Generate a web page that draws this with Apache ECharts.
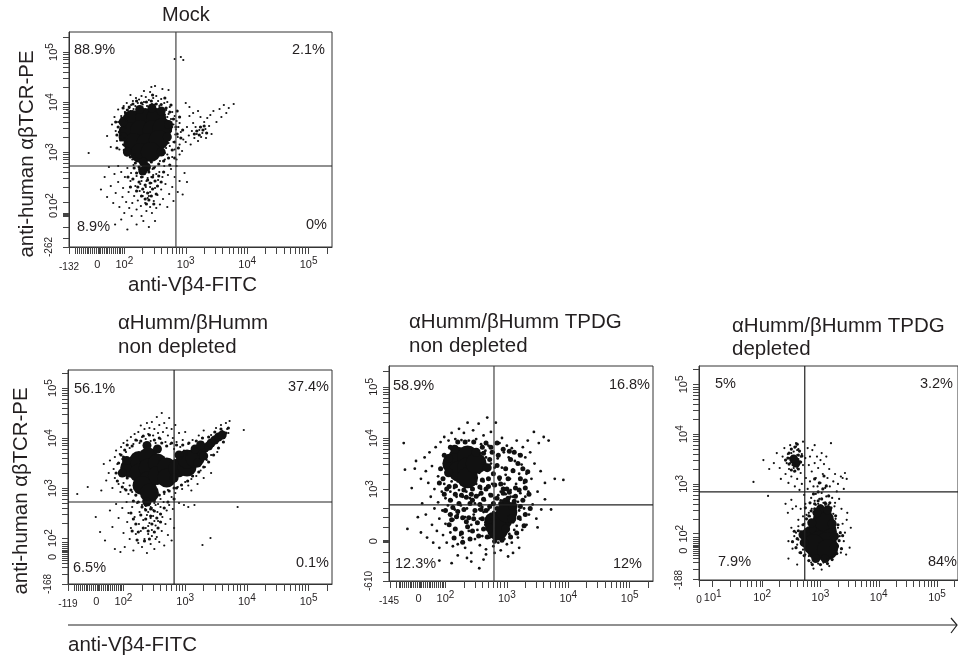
<!DOCTYPE html>
<html><head><meta charset="utf-8">
<style>html,body{margin:0;padding:0;background:#fff;overflow:hidden}#c{width:958px;height:655px}</style>
<script src="https://cdn.jsdelivr.net/npm/echarts@6/dist/echarts.min.js"></script></head>
<body><div id="c"></div>
<script>
// axis positions are decade units of the display scale (3 = 10^3)
const mockBig=[[2.13,3.64],[2.34,3.68],[2.52,3.68],[2.07,3.4],[2.26,3.44],[2.46,3.44],[2.62,3.48],[2.15,3.18],[2.36,3.18],[2.56,3.24],[2.26,2.98],[2.43,3.0]];
const mockSmall=[[2.31,2.8],[2.36,2.7],[2.3,2.62],[2.72,3.55],[2.7,3.3],[1.98,3.6],[1.98,3.3],[2.05,3.0],[2.6,3.0],[2.25,3.85],[2.45,3.88],[2.6,3.82]];
const mockNear=[[1.9,3.5],[2.0,3.14],[1.94,3.24],[2.02,3.78],[1.96,3.68],[2.08,3.9],[2.1,2.9],[1.92,3.4],[2.04,2.94],[2.14,3.96],[2.2,2.86],[2.28,3.98],[2.18,2.78],[2.36,4.0],[2.44,4.02],[2.52,3.96],[2.6,3.95],[2.68,3.88],[2.74,3.8],[2.8,3.66],[2.84,3.5],[2.86,3.36],[2.82,3.2],[2.78,3.04],[2.72,2.88],[2.64,2.82],[2.56,2.76],[2.48,2.68],[2.44,2.8],[2.24,2.7],[2.2,2.58],[2.16,2.68],[2.4,2.6],[2.46,2.5],[2.38,2.44],[2.28,2.5],[2.34,2.34],[2.42,2.38],[2.5,2.42],[2.3,2.26],[2.38,2.18],[2.46,2.26],[2.54,2.32],[2.24,2.4],[2.2,2.22],[2.28,2.12],[2.4,2.04],[2.36,1.96],[2.44,2.12],[2.52,2.16],[2.56,2.52],[2.6,2.4],[2.64,2.6],[2.1,2.3],[2.14,2.46],[2.06,2.5],[2.74,2.74],[2.82,2.88],[2.88,3.08],[2.92,3.28],[2.95,3.44],[1.88,3.34],[1.86,3.6],[1.98,3.88],[2.76,3.94],[2.66,4.08],[2.46,4.14],[2.2,4.02],[3.18,3.42],[3.24,3.5],[3.14,3.36],[3.28,3.44],[3.22,3.34],[3.3,3.52],[3.34,3.38],[2.05,3.84],[2.9,3.7],[2.86,3.82],[2.0,3.04],[1.88,3.08],[2.22,2.3],[2.48,1.96],[2.34,2.06]];
const mockSpeck=[[1.42,2.98],[1.72,3.32],[1.78,3.1],[1.8,3.55],[1.84,3.7],[1.86,3.42],[1.88,3.22],[1.9,3.6],[1.9,3.85],[1.92,3.05],[1.94,3.34],[1.95,3.72],[1.97,3.5],[1.98,3.15],[1.99,3.92],[2.0,3.28],[2.01,3.8],[2.02,2.95],[2.03,3.62],[2.04,3.98],[2.05,3.1],[2.06,3.76],[2.08,3.88],[2.09,2.9],[2.1,3.02],[2.11,3.94],[2.13,2.85],[2.14,4.02],[2.15,3.86],[2.17,2.95],[2.18,3.92],[2.19,4.08],[2.2,2.82],[2.22,3.98],[2.24,4.05],[2.25,3.88],[2.28,4.12],[2.3,3.95],[2.32,4.0],[2.35,4.1],[2.37,3.92],[2.4,4.04],[2.42,4.2],[2.45,3.96],[2.47,4.08],[2.5,3.95],[2.52,4.12],[2.55,4.02],[2.57,3.92],[2.6,4.06],[2.62,3.88],[2.65,3.98],[2.68,3.84],[2.7,4.0],[2.72,3.76],[2.74,3.9],[2.76,3.66],[2.78,3.8],[2.8,3.55],[2.82,3.72],[2.84,3.45],[2.85,3.62],[2.87,3.3],[2.88,3.5],[2.9,3.15],[2.92,3.4],[2.94,3.02],[2.96,3.25],[2.8,3.2],[2.82,3.05],[2.78,2.9],[2.7,2.95],[2.74,3.12],[2.68,3.08],[2.85,2.85],[2.9,2.95],[2.66,2.85],[2.58,2.82],[2.52,2.9],[2.76,3.42],[2.83,3.35],[2.9,3.58],[1.93,3.45],[2.02,3.48],[2.0,3.66],[2.03,3.2],[2.07,3.7],[2.1,3.82],[2.12,2.94],[2.18,2.88],[2.7,3.7],[2.66,3.75],[2.78,3.5],[2.72,3.18],[2.66,2.98],
[3.0,3.2],[3.02,3.5],[3.05,3.33],[3.06,3.72],[3.08,3.15],[3.1,3.42],[3.12,3.58],[3.14,3.28],[3.16,3.5],[3.18,3.36],[3.2,3.22],[3.22,3.44],[3.24,3.7],[3.25,3.3],[3.27,3.38],[3.3,3.6],[3.32,3.46],[3.33,3.28],[3.35,3.68],[3.38,3.52],[3.4,3.74],[3.42,3.36],[3.45,3.82],[3.5,3.6],[3.55,3.86],[3.58,3.7],[3.62,3.94],[3.66,3.78],[3.7,3.88],[3.78,3.96],[3.12,3.78],[3.2,3.82],[3.06,3.9],[3.0,3.98],
[2.82,4.86],[2.92,4.9],[2.96,4.84],[2.5,4.32],[2.62,4.26],[2.44,4.3],[2.72,4.24],[2.32,4.22],[2.1,4.14],
[1.62,2.25],[1.68,2.5],[1.72,2.1],[1.75,2.7],[1.78,2.32],[1.82,1.98],[1.84,2.56],[1.86,2.18],[1.9,2.72],[1.9,2.4],[1.92,1.9],[1.95,2.6],[1.97,2.1],[1.98,2.28],[2.0,1.78],[2.01,2.5],[2.03,2.0],[2.05,2.68],[2.07,2.2],[2.08,1.88],[2.1,2.42],[2.11,2.58],[2.13,1.98],[2.15,2.74],[2.16,2.12],[2.18,2.32],[2.2,1.85],[2.2,2.52],[2.22,2.03],[2.24,2.66],[2.25,2.22],[2.27,1.92],[2.28,2.42],[2.3,2.12],[2.31,1.62],[2.32,2.56],[2.34,1.98],[2.35,2.3],[2.36,1.82],[2.38,2.48],[2.38,2.08],[2.4,2.62],[2.42,1.9],[2.42,2.2],[2.44,2.38],[2.45,1.78],[2.47,2.54],[2.48,2.02],[2.5,2.28],[2.5,2.7],[2.52,1.88],[2.54,2.14],[2.55,2.44],[2.57,2.6],[2.58,1.95],[2.6,2.25],[2.62,2.5],[2.63,2.06],[2.65,2.72],[2.67,2.36],[2.7,1.9],[2.71,2.54],[2.73,2.16],[2.76,2.66],[2.78,2.3],[2.8,2.02],[2.82,2.5],[2.85,2.72],[2.87,2.2],[2.9,2.42],[2.98,2.58],[3.02,2.4],[2.95,2.15],[1.85,1.55],[1.95,1.65],[2.05,1.45],[2.2,1.55],[2.4,1.5],[2.5,1.62],[2.28,1.72],[2.12,1.72],[2.42,2.3],[2.36,2.42],[2.3,2.5],[2.34,2.62],[2.26,2.58],[2.44,2.5],[2.4,2.12],[2.32,2.2],[2.26,2.36],[2.46,2.66],[2.52,2.56]];
const wtBig=[[2.1,3.4],[2.25,3.55],[2.25,3.3],[2.4,3.62],[2.4,3.4],[2.4,3.15],[2.55,3.5],[2.55,3.25],[2.3,3.05],[2.42,2.9],[2.7,3.42],[2.7,3.2],[2.88,3.4],[3.03,3.42],[3.03,3.58],[3.16,3.6]];
const wtSmall=[[3.26,3.72],[3.32,3.8],[3.38,3.84],[3.42,3.9],[3.48,3.96],[3.54,4.02],[3.6,4.06],[2.82,3.2],[3.2,3.5],[3.3,3.64],[3.16,3.78],[3.25,3.86],[2.9,3.66],[2.55,3.78],[2.38,3.85],[2.38,2.72],[1.98,3.3],[2.05,3.55]];
const wtNear=[[1.88,3.3],[1.92,3.5],[1.9,3.14],[1.96,3.66],[1.98,3.02],[2.02,3.76],[2.06,3.86],[2.04,2.96],[2.12,2.96],[2.14,3.84],[2.2,3.96],[2.28,3.94],[2.2,2.86],[2.5,3.96],[2.62,3.9],[2.7,3.84],[2.78,3.9],[2.86,3.86],[2.58,4.0],[2.32,4.04],[2.42,4.06],[2.16,2.74],[2.24,2.72],[2.5,2.74],[2.58,2.86],[2.66,2.92],[2.74,2.94],[2.82,3.0],[2.94,3.06],[3.04,3.14],[3.12,3.24],[3.22,3.32],[3.3,3.42],[3.38,3.52],[3.46,3.66],[3.54,3.8],[3.62,3.92],[3.66,4.1],[3.58,4.18],[3.48,4.12],[3.38,4.02],[3.28,4.0],[3.18,3.94],[3.06,3.9],[2.96,3.86],[3.7,4.2],[2.3,2.62],[2.36,2.56],[2.44,2.58],[2.28,2.46],[2.36,2.38],[2.44,2.44],[2.5,2.54],[2.54,2.4],[2.46,2.28],[2.4,2.14],[2.5,2.12],[2.56,2.2],[2.32,2.2],[2.2,2.28],[2.24,2.12],[2.34,1.94],[2.42,1.98],[2.12,2.5],[2.16,2.38],[2.6,2.48],[2.66,2.6],[2.72,2.72],[2.82,2.78],[2.14,2.14],[2.22,1.96],[2.6,2.32],[2.86,3.0],[2.06,3.2],[2.0,3.62]];
const wtSpeck=[[1.25,2.88],[1.42,3.02],[1.64,2.95],[1.68,3.48],[1.72,3.15],[1.76,3.3],[1.78,3.55],[1.82,3.0],[1.84,3.38],[1.86,3.62],[1.86,3.2],[1.88,3.75],[1.9,3.48],[1.92,3.08],[1.94,3.68],[1.95,2.92],[1.96,3.82],[1.98,3.58],[2.0,3.1],[2.0,3.9],[2.02,2.98],[2.04,3.72],[2.06,3.95],[2.08,2.88],[2.1,3.8],[2.1,3.05],[2.12,4.02],[2.14,2.92],[2.16,3.88],[2.18,4.08],[2.2,2.85],[2.22,3.95],[2.24,4.12],[2.26,3.9],[2.28,4.25],[2.3,4.02],[2.32,2.74],[2.34,4.18],[2.36,3.98],[2.38,4.3],[2.4,4.08],[2.42,4.2],[2.44,3.94],[2.46,4.32],[2.48,4.05],[2.5,4.18],[2.52,3.9],[2.54,4.42],[2.56,4.1],[2.58,4.26],[2.6,3.98],[2.62,4.5],[2.64,4.12],[2.66,4.3],[2.68,3.92],[2.7,4.2],[2.72,4.05],[2.74,4.4],[2.76,3.88],[2.78,4.18],[2.8,4.0],[2.82,3.78],[2.84,4.26],[2.86,3.92],[2.88,3.7],[2.9,4.1],[2.92,3.82],[2.94,3.62],[2.96,3.96],[2.98,3.75],[3.0,4.12],[3.02,3.66],[3.05,3.88],[3.08,3.74],[3.12,3.96],[3.16,3.8],[3.22,4.05],[3.28,3.92],[3.3,4.15],[3.42,4.06],[3.5,4.2],[3.58,4.26],[3.66,4.3],[3.72,4.34],[3.68,4.18],[3.6,4.14],[3.7,4.1],[3.52,3.72],[3.42,3.66],[3.35,3.56],[3.25,3.35],[3.32,3.42],[3.18,3.24],[3.1,3.18],[3.05,3.05],[3.0,3.12],[2.95,2.98],[2.88,3.02],[2.84,2.9],[2.78,2.82],[2.72,2.96],[2.66,2.88],[2.6,2.78],[2.54,2.9],[3.2,3.08],[3.3,3.2],[3.42,3.3],[3.1,2.95],[3.95,4.16],
[1.55,2.42],[1.62,2.12],[1.7,1.95],[1.78,2.55],[1.82,2.22],[1.86,1.78],[1.88,2.68],[1.92,2.4],[1.95,1.72],[1.98,2.6],[2.0,2.1],[2.02,1.82],[2.05,2.72],[2.06,2.32],[2.08,2.5],[2.1,1.98],[2.12,2.2],[2.14,2.62],[2.16,1.75],[2.18,2.42],[2.2,2.08],[2.22,2.7],[2.24,1.9],[2.25,2.28],[2.26,2.52],[2.28,2.14],[2.3,1.82],[2.3,2.66],[2.32,2.36],[2.34,1.98],[2.35,2.58],[2.36,2.2],[2.38,1.7],[2.38,2.46],[2.4,2.08],[2.42,2.3],[2.44,1.88],[2.44,2.62],[2.46,2.16],[2.48,2.44],[2.5,1.78],[2.5,2.7],[2.52,2.25],[2.54,2.02],[2.55,2.52],[2.56,2.34],[2.58,1.92],[2.6,2.62],[2.62,2.14],[2.63,2.42],[2.65,2.72],[2.66,1.85],[2.68,2.28],[2.7,2.55],[2.72,2.06],[2.74,2.66],[2.76,2.38],[2.78,1.95],[2.8,2.58],[2.82,2.2],[2.9,2.7],[2.98,2.66],[3.05,2.62],[3.15,2.66],[3.85,2.62],[3.41,2.0],[3.28,1.86],[2.4,2.52],[2.46,2.6],[2.42,2.68],[2.36,2.64],[2.48,2.56],[2.52,2.66],[2.56,2.68],[2.44,2.4],[2.5,2.34],[2.4,2.24],[2.46,2.04],[2.52,1.98]];
const tpBig=[[2.12,3.5],[2.22,3.62],[2.22,3.35],[2.36,3.65],[2.36,3.42],[2.36,3.22],[2.5,3.5],[2.8,2.35],[2.92,2.4],[2.85,2.2],[3.0,2.55]];
const tpSmall=[[2.05,3.32],[2.05,3.6],[2.5,3.72],[2.15,3.78],[2.68,3.42],[2.72,2.42],[2.72,2.24],[2.98,2.22],[3.08,2.42],[3.1,2.66],[2.98,2.74]];
const tpNear=[[1.92,3.4],[1.96,3.2],[1.98,3.66],[2.06,3.05],[2.08,3.82],[2.16,3.06],[2.2,3.92],[2.3,2.98],[2.32,3.92],[2.44,3.0],[2.46,3.92],[2.6,3.18],[2.62,3.7],[2.72,3.58],[2.7,3.05],[2.78,3.3],[2.84,3.46],[2.88,3.22],[2.94,3.0],[2.98,3.4],[3.02,3.2],[3.06,3.58],[3.1,3.36],[3.14,3.02],[3.18,3.5],[3.22,3.2],[2.76,3.72],[2.86,3.66],[2.94,3.78],[3.04,3.74],[3.12,3.72],[2.66,3.0],[2.58,2.92],[2.74,2.88],[2.84,2.82],[2.94,2.92],[3.04,2.94],[3.14,2.86],[3.2,2.98],[3.26,2.78],[3.3,3.02],[3.34,3.34],[3.38,2.62],[3.36,2.9],[3.3,2.5],[3.28,2.28],[3.22,2.66],[3.2,2.44],[3.16,2.14],[3.06,2.06],[2.92,2.0],[2.8,1.98],[2.68,2.06],[2.62,2.22],[2.6,2.42],[2.56,2.7],[2.5,2.86],[2.42,2.9],[2.34,2.84],[2.26,2.88],[2.16,2.9],[2.08,2.78],[2.12,2.64],[2.22,2.72],[2.3,2.6],[2.4,2.72],[2.48,2.58],[2.38,2.44],[2.28,2.44],[2.18,2.46],[2.08,2.5],[2.0,2.58],[2.06,2.3],[2.16,2.22],[2.26,2.14],[2.36,2.26],[2.44,2.18],[2.52,2.34],[2.54,2.08],[2.4,2.02],[2.28,1.96],[2.14,2.04],[2.62,2.8],[2.72,2.66],[2.78,2.72],[2.66,2.58],[2.9,2.72],[2.84,2.62],[3.02,2.82],[3.12,2.76],[2.7,3.2],[2.8,3.08],[2.9,3.1],[3.0,3.0],[2.56,3.04],[2.44,2.78],[1.98,2.9],[2.02,3.0],[1.9,3.12],[3.3,3.16],[3.26,3.4],[3.22,3.66],[2.6,3.82],[2.66,3.9],[2.74,3.82],[2.84,3.9],[2.2,2.56],[2.1,2.4],[2.34,2.36],[2.46,2.42],[2.58,2.6]];
const tpSpeck=[[1.32,3.9],[1.34,3.38],[1.38,2.22],[1.45,3.02],[1.5,3.4],[1.52,3.55],[1.55,2.45],[1.6,3.2],[1.6,2.15],[1.62,2.72],[1.66,3.62],[1.68,3.35],[1.68,2.5],[1.7,2.05],[1.72,3.12],[1.74,3.72],[1.76,2.85],[1.78,2.3],[1.78,3.45],[1.8,1.95],[1.82,3.0],[1.82,2.62],[1.84,3.82],[1.86,2.18],[1.88,3.25],[1.88,2.74],[1.9,2.42],[1.9,1.85],[1.92,3.92],[1.94,2.95],[1.95,2.58],[1.96,2.1],[1.98,3.1],[1.98,4.02],[2.0,2.82],[2.0,2.32],[2.02,1.95],[2.04,2.68],[2.05,3.95],[2.06,2.5],[2.08,2.95],[2.08,2.15],[2.1,4.1],[2.1,2.78],[2.12,1.88],[2.13,2.4],[2.14,3.02],[2.15,2.6],[2.16,3.98],[2.18,2.85],[2.2,1.92],[2.2,2.5],[2.22,4.18],[2.22,2.98],[2.24,2.1],[2.25,2.68],[2.26,3.96],[2.28,2.05],[2.28,2.85],[2.3,4.1],[2.32,2.45],[2.32,1.85],[2.34,2.95],[2.35,2.62],[2.36,4.3],[2.38,2.18],[2.38,3.95],[2.4,2.82],[2.42,2.3],[2.42,1.75],[2.44,3.02],[2.45,4.15],[2.46,2.5],[2.48,2.02],[2.48,2.72],[2.5,3.98],[2.5,3.1],[2.52,2.2],[2.54,2.88],[2.54,4.28],[2.56,2.42],[2.56,1.9],[2.58,3.0],[2.58,3.88],[2.6,2.65],[2.6,2.08],[2.62,4.05],[2.62,3.15],[2.64,2.78],[2.65,2.3],[2.66,1.82],[2.66,3.62],[2.68,3.05],[2.68,4.4],[2.7,2.6],[2.7,3.85],[2.72,2.9],[2.72,2.05],[2.74,3.5],[2.74,4.12],[2.76,3.1],[2.76,2.7],[2.78,3.72],[2.78,1.88],[2.8,2.82],[2.8,3.42],[2.82,4.3],[2.82,3.08],[2.84,2.62],[2.85,3.6],[2.86,1.95],[2.88,3.9],[2.88,3.18],[2.9,2.78],[2.9,1.8],[2.92,3.42],[2.92,4.0],[2.94,3.02],[2.95,3.72],[2.96,2.02],[2.98,2.9],[2.98,3.28],[3.0,3.85],[3.0,1.92],[3.02,2.78],[3.03,3.62],[3.04,2.12],[3.05,3.2],[3.06,2.98],[3.08,3.8],[3.08,1.95],[3.1,3.38],[3.1,2.85],[3.12,2.2],[3.13,3.55],[3.14,2.52],[3.15,3.1],[3.16,3.95],[3.18,2.75],[3.18,2.05],[3.2,3.3],[3.2,3.68],[3.22,2.92],[3.22,2.4],[3.24,3.48],[3.25,2.2],[3.26,3.82],[3.28,3.12],[3.28,2.62],[3.3,3.62],[3.3,2.85],[3.32,3.3],[3.32,2.3],[3.34,3.95],[3.35,2.95],[3.36,2.5],[3.38,3.72],[3.4,3.2],[3.42,2.7],[3.44,4.12],[3.45,3.5],[3.48,2.42],[3.5,2.95],[3.52,3.9],[3.55,3.35],[3.56,2.6],[3.6,4.02],[3.62,2.8],[3.62,3.12],[3.68,3.95],[3.78,3.2],[3.92,3.18],[3.72,2.6],[3.5,2.25],[2.2,3.15],[2.1,3.15],[2.18,3.05],[2.5,3.22],[2.55,3.32],[2.48,3.3],[2.6,3.5],[2.65,3.75],[2.58,3.7],[2.9,2.95],[2.86,2.88],[2.96,3.1],[2.76,2.4],[2.78,2.55],[2.62,2.55],[2.55,2.6],[3.1,2.35],[3.16,2.28],[3.12,2.68],[3.2,2.58],[3.06,2.85],[2.1,1.55],[2.35,1.65],[2.55,1.45],[2.62,1.62],[1.9,1.6],[2.8,1.75],[3.02,1.68],[3.2,1.85],[3.1,1.75],[2.66,1.72],[2.2,1.7],[2.42,1.58]];
const depBig=[[2.85,1.95],[2.98,2.12],[3.1,2.05],[2.98,1.85],[3.1,1.82],[2.95,1.68],[3.05,2.28],[2.88,1.78],[3.12,1.68]];
const depSmall=[[2.72,1.82],[2.7,1.98],[3.24,1.95],[3.24,1.75],[2.85,2.22],[3.2,2.2],[3.08,1.5],[2.92,1.5],[3.0,2.5],[3.12,2.48],[2.94,2.42],[2.54,3.5],[2.58,3.42]];
const depNear=[[2.6,1.9],[2.58,1.72],[2.62,2.06],[2.66,1.62],[2.7,2.18],[2.72,1.56],[2.76,2.3],[2.8,2.36],[2.8,1.46],[2.84,2.46],[2.86,1.38],[2.9,2.6],[2.96,2.66],[3.0,1.38],[3.02,2.7],[3.08,2.62],[3.12,1.4],[3.14,2.76],[3.18,2.52],[3.2,1.48],[3.26,2.36],[3.28,1.6],[3.3,2.18],[3.32,1.86],[3.34,2.02],[2.96,2.84],[3.04,2.9],[2.88,2.8],[3.1,2.96],[2.98,3.02],[2.9,3.1],[3.06,3.16],[2.46,3.62],[2.5,3.7],[2.56,3.74],[2.62,3.58],[2.66,3.44],[2.64,3.66],[2.46,3.4],[2.5,3.28],[2.56,3.26],[2.62,3.3],[2.44,3.52],[2.68,3.56],[2.6,3.8],[2.4,3.48],[3.0,2.56],[2.9,2.5],[3.16,2.62],[2.82,2.62],[2.74,2.52],[2.55,2.05],[2.52,1.84],[3.36,1.7],[3.38,1.96]];
const depSpeck=[[1.85,3.04],[2.1,2.76],[2.02,3.48],[2.12,3.3],[2.2,3.42],[2.25,3.62],[2.3,3.32],[2.32,3.1],[2.35,3.55],[2.38,3.72],[2.4,3.2],[2.42,3.42],[2.44,3.6],[2.45,3.02],[2.46,3.3],[2.48,3.78],[2.5,3.5],[2.5,3.15],[2.52,3.38],[2.54,3.65],[2.55,3.25],[2.56,2.95],[2.58,3.82],[2.6,3.58],[2.6,3.32],[2.6,3.1],[2.62,3.7],[2.64,2.88],[2.65,3.45],[2.66,3.22],[2.68,3.6],[2.68,3.0],[2.7,3.38],[2.7,3.85],[2.72,2.78],[2.74,3.52],[2.75,3.12],[2.78,3.72],[2.78,2.9],[2.8,3.38],[2.82,3.55],[2.82,3.05],[2.84,2.72],[2.85,3.25],[2.86,3.68],[2.88,2.95],[2.9,3.42],[2.9,3.78],[2.92,3.12],[2.92,2.8],[2.94,3.55],[2.95,2.95],[2.96,3.32],[2.98,2.7],[3.0,3.48],[3.0,3.02],[3.02,3.62],[3.02,2.82],[3.04,3.2],[3.05,2.62],[3.06,3.4],[3.08,2.92],[3.1,3.55],[3.1,2.75],[3.12,3.12],[3.14,2.58],[3.15,3.3],[3.16,2.95],[3.18,3.82],[3.2,2.72],[3.22,3.05],[3.24,2.55],[3.25,3.2],[3.28,2.85],[3.3,3.0],[3.32,2.7],[3.35,3.15],[3.38,3.12],[3.42,3.22],[3.45,3.1],[3.4,2.9],[3.36,2.5],[3.1,2.6],[2.96,2.6],[2.9,2.66],[2.85,2.5],[2.8,2.42],[2.74,2.6],[2.7,2.35],[2.66,2.5],[2.62,2.15],[2.58,2.55],[2.5,2.68],[2.45,1.85],[2.5,2.12],[2.52,1.7],[2.55,1.95],[2.58,2.02],[2.6,1.78],[2.62,1.88],[2.62,2.28],[2.64,1.62],[2.66,2.05],[2.68,1.85],[2.7,1.68],[2.72,2.2],[2.74,1.58],[2.76,2.38],[2.8,1.55],[2.82,2.35],[2.84,1.42],[2.88,2.42],[2.9,1.48],[2.92,2.58],[2.96,1.4],[3.0,1.5],[3.02,2.55],[3.05,1.42],[3.08,2.58],[3.12,1.48],[3.15,2.5],[3.18,1.52],[3.22,2.4],[3.25,1.6],[3.26,2.3],[3.3,1.75],[3.3,2.12],[3.33,1.95],[3.35,1.62],[3.38,2.2],[3.4,1.85],[3.42,2.02],[3.44,1.58],[3.46,2.42],[3.5,1.72],[3.52,2.12],[3.45,2.28],[3.15,1.35],[2.88,1.3],[2.6,1.38],[3.02,1.28],[2.45,1.5],[2.52,2.5],[2.44,2.42],[3.25,2.62],[2.4,2.6],[2.46,3.52],[2.52,3.56],[2.56,3.42],[2.6,3.68],[2.48,3.42],[2.54,3.32],[2.62,3.5],[2.66,3.55],[2.58,3.75],[2.5,3.62]];

const mockPct=['88.9%','2.1%','8.9%','0%'], wtPct=['56.1%','37.4%','6.5%','0.1%'], tpPct=['58.9%','16.8%','12.3%','12%'], depPct=['5%','3.2%','7.9%','84%'];
const decadeSteps=[0,.3,.48,.6,.7,.78,.85,.9,.95];
const xDenseLeft=[1.1,1.2,1.24,1.27,1.3,1.33,1.36,1.39,1.42,1.45,1.48,1.51,1.54,1.57,1.59,1.61,1.64,1.67,1.7,1.73,1.76,1.79,1.82,1.85,1.88,1.91,1.94,1.97];
const yTailMock=[1.1,1.28,1.5,1.72,1.74,1.76,1.78];
const yTailDense=[1.08,1.28,1.42,1.5,1.56,1.6,1.64,1.68,1.72,1.74,1.76,1.8,1.84,1.88,1.92];
const yTailTp=[1.2,1.38,1.56,1.76,1.96,1.98,2.0,2.25,2.45,2.62];
const xTailDep=[.915,1.15,1.45,1.62,1.74,1.82,1.9,1.96];
const xLabelVals=[2,3,4,5], yLabelVals=[2,3,4,5];
const supLabels={2:'{t|10}{s|2}',3:'{t|10}{s|3}',4:'{t|10}{s|4}',5:'{t|10}{s|5}'};
const smallLabels={'10¹':'{t|10}{s|1}'};

const logTicks=(from)=>{const o=[];for(let d=from;d<=5;d++)for(const s of decadeSteps)o.push(+(d+s).toFixed(2));return o;};
const panels=[
 {big:mockBig,small:mockSmall,near:mockNear,speck:mockSpeck,nearSize:3.2,speckSize:2.2,bigSize:20,box:[69,32,263,215],x:[1.1,5.38],y:[1.1,5.4],gate:[2.84,2.72],xt:xDenseLeft,yt:yTailMock,yFrom:2,xl:[[1.1,'-132',1],[1.56,'0',0]],yl:[[1.1,'-262',1],[1.74,'0',0],[2,'10²',0]],pct:mockPct},
 {big:wtBig,small:wtSmall,near:wtNear,speck:wtSpeck,nearSize:3.2,speckSize:2.2,bigSize:19,box:[68,370,264,214],x:[1.1,5.38],y:[1.08,5.36],gate:[2.82,2.72],xt:xDenseLeft,yt:yTailDense,yFrom:2,xl:[[1.1,'-119',1],[1.56,'0',0]],yl:[[1.08,'-168',1],[1.62,'0',0],[2,'10²',0]],pct:wtPct},
 {big:tpBig,small:tpSmall,near:tpNear,speck:tpSpeck,nearSize:5,speckSize:2.8,bigSize:21,box:[389,366,264,215],x:[1.08,5.38],y:[1.2,5.41],gate:[2.79,2.69],xt:xDenseLeft,yt:yTailTp,yFrom:3,xl:[[1.08,'-145',1],[1.56,'0',0]],yl:[[1.2,'-610',1],[1.98,'0',0]],pct:tpPct},
 {big:depBig,small:depSmall,near:depNear,speck:depSpeck,nearSize:3.2,speckSize:2.2,bigSize:21,box:[699,366,262,214],x:[.915,5.36],y:[1.07,5.37],gate:[2.73,2.84],xt:xTailDep,yt:yTailDense,yFrom:2,xl:[[.915,'0',1],[1.15,'10¹',0]],yl:[[1.07,'-188',1],[1.66,'0',0],[2,'10²',0]],pct:depPct}
];
const pctPos=[
 [[74,50,'left'],[325,50,'right'],[77,227,'left'],[327,225,'right']],
 [[74,389,'left'],[329,387,'right'],[73,568,'left'],[329,563,'right']],
 [[393,386,'left'],[650,385,'right'],[395,564,'left'],[642,564,'right']],
 [[715,384,'left'],[953,384,'right'],[718,562,'left'],[957,562,'right']]
];
const INK='#231f20', FONT='"Liberation Sans",Arial,sans-serif';
const labelFn=(extra)=>(v)=>{
  for(const [val,t,low] of extra) if(Math.abs(val-v)<1e-6){
    if(t==='10²') return supLabels[2];
    if(smallLabels[t]) return smallLabels[t];
    return low?`{low|${t}}`:`{t|${t}}`;
  }
  return supLabels[v]||'';
};
const grid=[],xAxis=[],yAxis=[],series=[],graphic=[];
panels.forEach((p,i)=>{
  grid.push({left:p.box[0],top:p.box[1],width:p.box[2],height:p.box[3],show:true,borderColor:'#333',borderWidth:1,backgroundColor:'transparent',containLabel:false});
  const axis=(range,ticks,labels,low,rot)=>({type:'value',gridIndex:i,min:range[0],max:range[1],splitLine:{show:false},minorTick:{show:false},
    axisLine:{show:true,onZero:false,lineStyle:{color:'#333',width:1}},
    axisTick:{show:true,length:rot?6:7,customValues:ticks,lineStyle:{color:'#444',width:1}},
    axisLabel:{show:true,customValues:labels,rotate:rot,margin:rot?7:9,hideOverlap:false,fontFamily:FONT,fontSize:11,color:INK,formatter:null,
      rich:{t:{fontFamily:FONT,fontSize:11,color:INK,lineHeight:17},s:{fontFamily:FONT,fontSize:10,color:INK,padding:[0,0,7,0],lineHeight:17},low:{fontFamily:FONT,fontSize:10,color:INK,padding:low,lineHeight:17}}}});
  const xa=axis(p.x,[...p.xt,...logTicks(2)],[...p.xl.map(a=>a[0]),...xLabelVals],[6,0,0,0],0);
  xa.axisLabel.formatter=labelFn(p.xl); xAxis.push(xa);
  const ya=axis(p.y,[...p.yt,...logTicks(p.yFrom)],[...p.yl.map(a=>a[0]),...yLabelVals.filter(v=>v>2)],[0,0,8,0],90);
  ya.axisLabel.formatter=labelFn(p.yl); yAxis.push(ya);
  const sc=(name,data,size,z)=>({type:'scatter',name,xAxisIndex:i,yAxisIndex:i,data,symbolSize:size,z,silent:true,itemStyle:{color:'#111',opacity:1},animation:false,large:false});
  series.push(sc('dense',p.big,p.bigSize,3),sc('mid',p.small,9,3),sc('near',p.near,p.nearSize,3),sc('events',p.speck,p.speckSize,3));
  series.push({type:'line',xAxisIndex:i,yAxisIndex:i,data:[[p.gate[0],p.y[0]],[p.gate[0],p.y[1]]],symbol:'none',silent:true,z:5,animation:false,lineStyle:{color:i%2?'#222':'#444',width:1.2}});
  series.push({type:'line',xAxisIndex:i,yAxisIndex:i,data:[[p.x[0],p.gate[1]],[p.x[1],p.gate[1]]],symbol:'none',silent:true,z:5,animation:false,lineStyle:{color:'#222',width:1.2}});
  p.pct.forEach((t,k)=>{const q=pctPos[i][k];graphic.push({type:'text',left:q[2]==='left'?q[0]:undefined,right:q[2]==='right'?958-q[0]:undefined,top:q[1]-8,z:20,style:{text:t,font:'14.5px '+FONT,fill:INK}});});
});
const txt=(text,x,y,size)=>({type:'text',x,y,z:20,style:{text,font:(size||20)+'px '+FONT,fill:INK,textVerticalAlign:'middle'}});
graphic.push(
 txt('Mock',162,15),
 txt('αHumm/βHumm',118,323,20.5),txt('non depleted',118,347,20.5),
 txt('αHumm/βHumm TPDG',409,322,20.5),txt('non depleted',409,346,20.5),
 txt('αHumm/βHumm TPDG',732,326,20.5),txt('depleted',732,349,20.5),
 txt('anti-Vβ4-FITC',128,285,20.5),txt('anti-Vβ4-FITC',68,645,20.5),
 {type:'text',x:27,y:154,rotation:Math.PI/2,z:20,style:{text:'anti-human αβTCR-PE',font:'20.4px '+FONT,fill:INK,textAlign:'center',textVerticalAlign:'middle'}},
 {type:'text',x:21,y:491,rotation:Math.PI/2,z:20,style:{text:'anti-human αβTCR-PE',font:'20.4px '+FONT,fill:INK,textAlign:'center',textVerticalAlign:'middle'}},
 {type:'line',z:20,shape:{x1:68,y1:625,x2:957,y2:625},style:{stroke:'#222',lineWidth:1.2}},
 {type:'polyline',z:20,shape:{points:[[951,618],[957,625],[951,633]]},style:{fill:'none',stroke:'#222',lineWidth:1.2}}
);
const chart=echarts.init(document.getElementById('c'),null,{renderer:'canvas'});
chart.setOption({animation:false,backgroundColor:'#fff',grid,xAxis,yAxis,series,graphic});
</script></body></html>
